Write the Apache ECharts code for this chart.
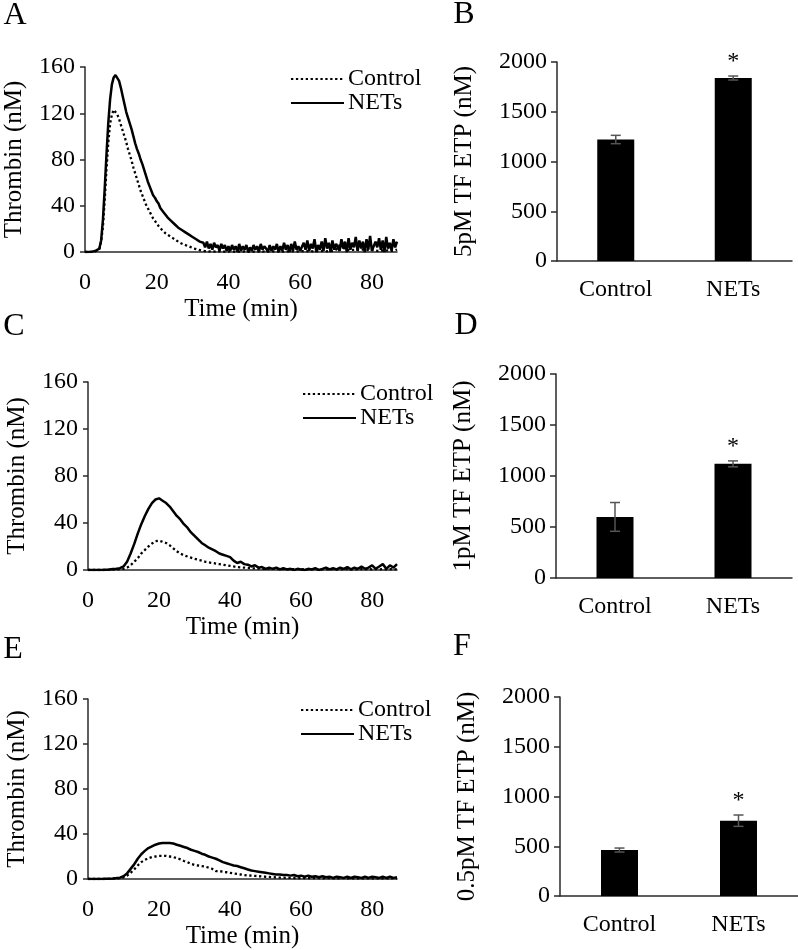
<!DOCTYPE html>
<html><head><meta charset="utf-8">
<script src="https://cdn.jsdelivr.net/npm/echarts@6/dist/echarts.min.js"></script>
<style>html,body{margin:0;padding:0;background:#fff}#c{width:798px;height:950px}</style>
</head><body><div id="c"></div>
<script>
// ---------- DATA ----------
// Thrombin generation curves (nM); sample step in minutes for each panel
const stepA = 0.5, stepC = 1, stepE = 1;
const netsA = [0,0,0,0,0.3,0.5,1,1.5,
 3,10,28,55,85,112,132,145,151,153,
 152,148,142,135,128,121,116,111,106,100,
 94,89,85,80,76,71,66,61,57,53,
 49,47,44,42,38,37,34,33,30,30,
 27,27,24,24,21,22,19,20,17,18,
 15,15,13,14,11,12,9,10,
 8,4,9,3,7,2,8,4,6,1,7,3,6,1,5,
 1,6,2,5,0,7,1,5,2,6,0,4,1,6,2,5,0,7,2,5,
 3,0,6,1,5,2,7,0,5,1,8,2,6,0,7,1,9,2,5,1,
 0,8,2,10,1,7,3,11,0,6,2,9,1,12,3,8,0,10,2,7,
 6,1,11,3,9,0,12,2,8,4,13,1,10,3,9,0,11,2,14,1,
 1,9,4,12,2,10,0,13,3,8,1,11,4,9];
const controlA = [0,0,0,0,0.2,0.4,0.8,1.2,
 2.5,9,22,45,72,95,111,119,123,122,
 119,115,110,105,100,95,89,84,79,73,
 68,63,58,53,49,45,41,38,35,32,
 29,27,24.5,22.5,21,19,17.5,16,15,14,
 13,12,11,10,9,8,7.3,6.5,6,5.4,
 4.8,4.2,3.5,3,2.4,2,1.6,1.3,
 1,0.8,1.2,0.6,1,0.5,0.9,0.4,0.8,0.5,0.7,0.3,0.8,0.4,0.6,
 0.5,0.8,0.3,0.7,0.4,0.9,0.3,0.6,0.5,0.8,0.2,0.7,0.4,0.9,0.3,0.6,0.5,1,0.4,0.7,
 0.6,1,0.4,1.2,0.5,0.9,0.3,1.1,0.6,0.8,0.4,1.3,0.5,1,0.7,1.2,0.4,0.9,0.6,1.1,
 0.8,1.4,0.5,1.2,0.9,1.6,0.6,1.3,0.8,1.5,0.7,1.2,1,1.8,0.6,1.4,0.9,1.6,1.1,2,
 3,6,8,5,2,1,1.5,0.8,1.8,1,2,1.2,1.6,0.9,2.2,1.1,1.7,1,2,1.3,
 1.5,2.4,1,2,1.3,2.6,1.1,1.9,1.4,2.3,1,2,1.5,2.2];
const netsC = [0,0,0,0,0,0.3,0.5,0.8,1,1.5,
 3,7,14,22,31,39,46,52,57,60,
 61,59,57,54,50,46,43,39,36,32,
 29,26,23,21,19,17.5,16,14,13,12,
 11,8,6,7,5,4.5,3,4,2,2.5,
 1,2,1,2,0.5,1.5,0.5,1,0,1,
 0.5,0,1,0.5,1.5,0,1,2,0.5,1.5,
 0.5,2,1,2.5,0.5,2,1,3,1,2,
 4,1,3,5,1,4,2,5];
const controlC = [0,0,0,0,0,0,0.2,0.4,0.6,0.8,
 1,2,4,7,10,14,17,20,22.5,24.5,
 25,24,23,21,18.5,16,14,12.5,11.5,10.5,
 9.5,8.7,8,7,6.5,6,5.5,5,4.5,4,
 3.5,3,2.5,2.2,2,1.8,1.5,1.3,1.2,1,
 1,0.9,1,0.8,0.9,0.7,0.8,0.6,0.8,0.7,
 0.6,0.8,0.5,0.7,0.6,0.8,0.5,0.7,0.6,0.8,
 0.6,0.7,0.5,0.8,0.6,0.7,0.5,0.8,0.6,0.7,
 0.6,0.8,0.5,0.7,0.6,0.8,0.5,0.7];
const netsE = [0,0,0,0,0,0.2,0.3,0.5,0.8,1.2,
 2.5,5,9,13,18,22,25,27.5,29,30.5,
 31.5,32,32,32,31.5,30.5,29.5,28.5,27.5,26,
 25,24,22.5,21.5,20,19,18,16.5,15,14,
 13,12,11.5,10.5,9.5,8.5,7.5,7,6.5,6,
 5.5,5,4.5,4,4,3.5,3.5,3,3.5,2.5,
 3,2,3,2,2.5,1.5,2.5,1.5,2,1,
 2,1.5,1,2,1,2,1.5,1,2,1,
 2,1.5,1,2,1,2,1,1.5];
const controlE = [0,0,0,0,0,0,0.2,0.3,0.5,0.8,
 1.5,3,5.5,8.5,12,15,17,18.5,19.5,20,
 20.5,20.5,20.5,20,19.5,18.5,17.5,16,15,13.5,
 12.5,12,11.5,11,10,9,7,7,6.5,6,
 5.5,5,4.5,4,3.5,3.2,3,2.8,2.5,2.2,
 2,1.8,1.6,1.5,1.3,1.2,1,1,0.9,0.9,
 0.8,0.9,0.7,0.8,0.7,0.8,0.6,0.8,0.7,0.6,
 0.7,0.6,0.8,0.6,0.7,0.5,0.7,0.6,0.5,0.7,
 0.6,0.5,0.7,0.6,0.5,0.6,0.7,0.5];

// ETP bar data (nM)
const groups = ['Control', 'NETs'];
const etp5pM = [1221, 1839];
const etp5pMErr = [42, 20];
const etp1pM = [599, 1119];
const etp1pMErr = [141, 29];
const etp05pM = [462, 757];
const etp05pMErr = [20, 57];
const significance = ['', '*'];

// axis ticks
const timeMax = 87, timeStep = 20;
const thrombinMax = 160, thrombinStep = 40;
const etpMax = 2000, etpStep = 500;

// titles
const panelLetters = ['A', 'B', 'C', 'D', 'E', 'F'];
const lineYTitle = 'Thrombin (nM)';
const lineXTitle = 'Time (min)';
const barYTitles = ['5pM TF ETP (nM)', '1pM TF ETP (nM)', '0.5pM TF ETP (nM)'];

// ---------- CHART ----------
const FONT = "'Liberation Serif', serif";
const AXIS_COLOR = '#2a2a2a';
const chart = echarts.init(document.getElementById('c'), null, {renderer: 'canvas'});

const toPairs = (vals, step) => vals.map((v, i) => [i * step, v]);

const grids = [
  {left: 85, top: 67, width: 312, height: 185},   // A
  {left: 557, top: 62, width: 235, height: 199},  // B
  {left: 88, top: 382, width: 309, height: 188},  // C
  {left: 556, top: 374, width: 236, height: 204}, // D
  {left: 88, top: 699, width: 309, height: 187},  // E
  {left: 560, top: 697, width: 243, height: 199}  // F
];

const axisLineStyle = {show: true, lineStyle: {color: AXIS_COLOR, width: 1.5}};
const labelStyle = {color: '#000', fontFamily: FONT, fontSize: 24};
const nameStyle = {color: '#000', fontFamily: FONT, fontSize: 25};
const plain = v => String(v);

const xAxes = [], yAxes = [];
[0, 2, 4].forEach((g) => {
  xAxes[g] = {
    gridIndex: g, type: 'value', min: 0, max: timeMax, interval: timeStep,
    axisLine: axisLineStyle, axisTick: {show: false}, splitLine: {show: false},
    axisLabel: Object.assign({margin: 19, showMaxLabel: false, formatter: plain}, labelStyle),
    name: lineXTitle, nameLocation: 'middle', nameGap: 45, nameTextStyle: nameStyle
  };
  yAxes[g] = {
    gridIndex: g, type: 'value', min: 0, max: thrombinMax, interval: thrombinStep,
    axisLine: axisLineStyle, axisTick: {show: true, inside: false, length: 5, lineStyle: {color: AXIS_COLOR, width: 1.5}},
    splitLine: {show: false},
    axisLabel: Object.assign({margin: 10, formatter: plain}, labelStyle),
    name: lineYTitle, nameLocation: 'middle', nameGap: 58, nameTextStyle: nameStyle
  };
});
[1, 3, 5].forEach((g, k) => {
  xAxes[g] = {
    gridIndex: g, type: 'category', data: groups,
    axisLine: axisLineStyle, axisTick: {show: false},
    axisLabel: Object.assign({margin: 17}, labelStyle)
  };
  yAxes[g] = {
    gridIndex: g, type: 'value', min: 0, max: etpMax, interval: etpStep,
    axisLine: axisLineStyle, axisTick: {show: true, inside: false, length: 6, lineStyle: {color: AXIS_COLOR, width: 1.5}},
    splitLine: {show: false},
    axisLabel: Object.assign({margin: 10, formatter: plain}, labelStyle),
    name: barYTitles[k], nameLocation: 'middle', nameGap: 80, nameTextStyle: nameStyle
  };
});

const lineSeries = (name, vals, step, g, dotted) => ({
  name, type: 'line', xAxisIndex: g, yAxisIndex: g, data: toPairs(vals, step),
  showSymbol: false, symbol: 'none', silent: true, clip: true, color: '#000',
  lineStyle: dotted ? {color: '#000', width: 2.3, type: [2.3, 2.6]} : {color: '#000', width: 2.5, type: 'solid'}
});

const barSeries = (vals, g) => ({
  type: 'bar', xAxisIndex: g, yAxisIndex: g, data: vals, barWidth: 37,
  itemStyle: {color: '#000'}, silent: true
});

const errSeries = (vals, errs, g) => ({
  type: 'custom', xAxisIndex: g, yAxisIndex: g, silent: true, z: 5,
  data: vals.map((v, i) => [i, v, errs[i]]),
  renderItem: (params, api) => {
    const i = api.value(0), v = api.value(1), e = api.value(2);
    const hi = api.coord([i, v + e]);
    const lo = api.coord([i, v - e]);
    const hw = 5;
    const st = {stroke: '#555', lineWidth: 1.5};
    const children = [
      {type: 'line', shape: {x1: hi[0], y1: hi[1], x2: lo[0], y2: lo[1]}, style: st},
      {type: 'line', shape: {x1: hi[0] - hw, y1: hi[1], x2: hi[0] + hw, y2: hi[1]}, style: st},
      {type: 'line', shape: {x1: lo[0] - hw, y1: lo[1], x2: lo[0] + hw, y2: lo[1]}, style: st}
    ];
    if (significance[i]) {
      children.push({type: 'text', style: {text: significance[i], x: hi[0], y: hi[1] - 14,
        align: 'center', verticalAlign: 'middle', fill: '#000', font: '24px ' + FONT}});
    }
    return {type: 'group', children};
  }
});

const letterPos = [[15, 16], [464, 15], [14, 327], [466, 326], [13, 650], [462, 647]];
const graphics = panelLetters.map((t, i) => ({
  type: 'text', x: letterPos[i][0], y: letterPos[i][1],
  style: {text: t, font: '32px ' + FONT, fill: '#000', align: 'center', verticalAlign: 'middle'}
}));

const legendBase = (left, top) => ({
  data: ['Control', 'NETs'], orient: 'vertical', left, top, itemWidth: 53, itemHeight: 12, itemGap: 0,
  selectedMode: false, padding: 0, itemStyle: {opacity: 0},
  textStyle: {color: '#000', fontFamily: FONT, fontSize: 24, lineHeight: 23, padding: [0, 0, 0, -1]}
});

const option = {
  animation: false,
  backgroundColor: '#fff',
  grid: grids,
  xAxis: xAxes,
  yAxis: yAxes,
  legend: [legendBase(290, 67), legendBase(302, 382), legendBase(300, 698)],
  graphic: graphics,
  series: [
    lineSeries('Control', controlA, stepA, 0, true),
    lineSeries('NETs', netsA, stepA, 0, false),
    lineSeries('Control', controlC, stepC, 2, true),
    lineSeries('NETs', netsC, stepC, 2, false),
    lineSeries('Control', controlE, stepE, 4, true),
    lineSeries('NETs', netsE, stepE, 4, false),
    barSeries(etp5pM, 1), errSeries(etp5pM, etp5pMErr, 1),
    barSeries(etp1pM, 3), errSeries(etp1pM, etp1pMErr, 3),
    barSeries(etp05pM, 5), errSeries(etp05pM, etp05pMErr, 5)
  ]
};
chart.setOption(option);
</script></body></html>
